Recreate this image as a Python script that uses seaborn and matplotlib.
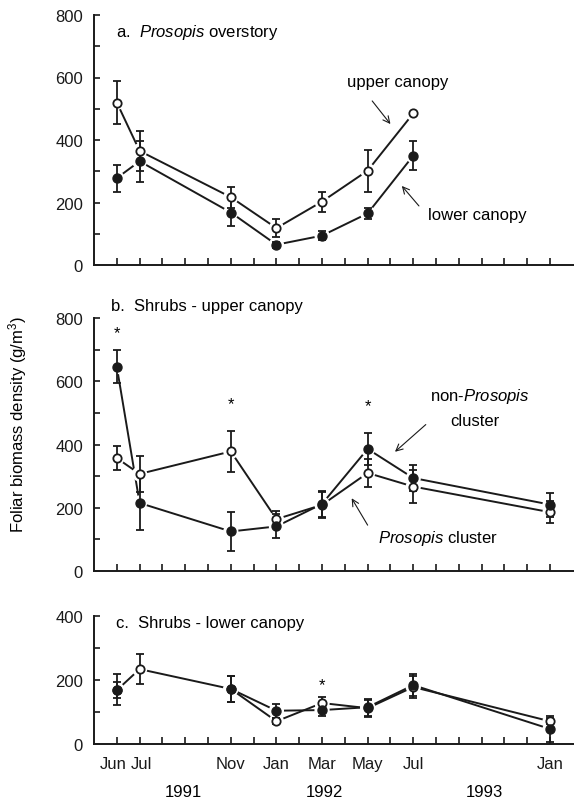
import numpy as np
import pandas as pd
import matplotlib
matplotlib.use("Agg")
import matplotlib.pyplot as plt
import matplotlib.transforms as mtransforms
import seaborn as sns
from matplotlib.ticker import FixedLocator, MultipleLocator

# ---------------- data ----------------
# month index: 0 = May 1991
months = [1, 2, 6, 8, 10, 12, 14, 20]
month_labels = ["Jun", "Jul", "Nov", "Jan", "Mar", "May", "Jul", "Jan"]
years = ["1991", "1992", "1993"]
year_pos = [3.9, 10.1, 17.1]

# a. Prosopis overstory (no Jan 1993 sample)
a_upper = [520, 365, 217, 118, 203, 302, 485, np.nan]
a_upper_err = [70, 65, 34, 29, 32, 67, np.nan, np.nan]
a_lower = [278, 332, 168, 65, 94, 165, 350, np.nan]
a_lower_err = [43, 65, 42, 10, 15, 18, 46, np.nan]

# b. Shrubs - upper canopy
b_nonpros = [646, 215, 125, 141, 212, 386, 294, 210]
b_nonpros_err = [52, 85, 63, 38, 42, 50, 40, 38]
b_pros = [357, 307, 378, 164, 209, 310, 267, 186]
b_pros_err = [37, 56, 64, 25, 40, 43, 52, 34]
b_stars = [(1, 755), (6, 528), (12, 523)]

# c. Shrubs - lower canopy
c_pros = [168, 234, 172, 71, 128, 112, 178, 71]
c_pros_err = [25, 48, 40, 10, 18, 27, 35, 10]
c_nonpros = [170, np.nan, 172, 104, 106, 115, 184, 47]
c_nonpros_err = [48, np.nan, 40, 22, 20, 27, 35, 40]
c_stars = [(10, 187)]

# ---------------- style ----------------
sns.set_theme(style="ticks")
plt.rcParams["font.family"] = ["Liberation Sans", "DejaVu Sans"]
plt.rcParams["mathtext.fontset"] = "custom"
plt.rcParams["mathtext.rm"] = "Liberation Sans"
plt.rcParams["mathtext.it"] = "Liberation Sans:italic"
for k in ("text.color", "axes.labelcolor", "xtick.color", "ytick.color",
          "axes.edgecolor"):
    plt.rcParams[k] = "black"
FS = 12

fig = plt.figure(figsize=(5.74, 8.03), dpi=100)
L, W = 94 / 574, 480 / 574
ax_a = fig.add_axes([L, (803 - 266) / 803, W, 250 / 803])
ax_b = fig.add_axes([L, (803 - 572) / 803, W, 253 / 803])
ax_c = fig.add_axes([L, (803 - 745) / 803, W, 128 / 803])


def make_df(vals):
    rows, seg = [], 0
    for m, v in zip(months, vals):
        if np.isnan(v):
            seg += 1
            continue
        rows.append({"month": m, "value": v, "seg": seg})
    return pd.DataFrame(rows)


def draw_series(ax, vals):
    df = make_df(vals)
    sns.lineplot(data=df, x="month", y="value", units="seg", estimator=None,
                 color="k", linewidth=1.4, ax=ax, zorder=2, legend=False)
    # white halo so that lines stop short of the symbols
    ax.scatter(df["month"], df["value"], s=120, color="white",
               edgecolors="none", zorder=2.5)


def draw_marks(ax, vals, errs, filled):
    df = make_df(vals)
    ax.errorbar(months, vals, yerr=errs, fmt="none", ecolor="k",
                elinewidth=1.3, capsize=3, capthick=1.3, zorder=3)
    if filled:
        sns.scatterplot(x=df["month"], y=df["value"], ax=ax, s=42,
                        color="k", edgecolor="k", linewidth=1.0, zorder=5,
                        legend=False)
    else:
        sns.scatterplot(x=df["month"], y=df["value"], ax=ax, s=36,
                        color="white", edgecolor="k", linewidth=1.3, zorder=4,
                        legend=False)


panels = [
    (ax_a, [(a_upper, a_upper_err, False), (a_lower, a_lower_err, True)], 800),
    (ax_b, [(b_pros, b_pros_err, False), (b_nonpros, b_nonpros_err, True)], 800),
    (ax_c, [(c_pros, c_pros_err, False), (c_nonpros, c_nonpros_err, True)], 400),
]

for ax, series, ymax in panels:
    for vals, errs, filled in series:
        draw_series(ax, vals)
    for vals, errs, filled in series:
        draw_marks(ax, vals, errs, filled)
    ax.set_xlim(0, 21.05)
    ax.set_ylim(0, ymax)
    ax.set_xlabel("")
    ax.set_ylabel("")
    sns.despine(ax=ax)
    for s in ("left", "bottom"):
        ax.spines[s].set_linewidth(1.4)
        ax.spines[s].set_color("k")
    ax.yaxis.set_major_locator(MultipleLocator(200))
    ax.yaxis.set_minor_locator(MultipleLocator(100))
    ax.xaxis.set_major_locator(FixedLocator(months))
    ax.xaxis.set_minor_locator(FixedLocator(list(range(1, 21))))
    ax.tick_params(axis="both", which="both", direction="in", color="k",
                   width=1.2, labelsize=FS, labelcolor="k")
    ax.tick_params(axis="y", which="major", length=4.5, pad=8)
    ax.tick_params(axis="y", which="minor", length=4)
    ax.tick_params(axis="x", which="both", length=5, pad=9)
    ax.set_facecolor("white")
    ax.grid(False)

ax_a.set_xticklabels([])
ax_b.set_xticklabels([])
ax_c.set_xticklabels(month_labels)
# spread the crowded "Jun Jul" pair a little, as in the original
_labels = ax_c.get_xticklabels()
for lab, dx in ((_labels[0], -4), (_labels[1], 2)):
    lab.set_transform(lab.get_transform() +
                      mtransforms.ScaledTranslation(dx / 100, 0,
                                                    fig.dpi_scale_trans))
for yp, yl in zip(year_pos, years):
    ax_c.text(yp, -0.37, yl, transform=ax_c.get_xaxis_transform(),
              ha="center", va="center", fontsize=FS)

# panel titles
ax_a.text(0.95, 746, "a.  $\\it{Prosopis}$ overstory", fontsize=FS, va="center")
ax_b.text(0.73, 838, "b.  Shrubs - upper canopy", fontsize=FS, va="center",
          clip_on=False)
ax_c.text(0.95, 381, "c.  Shrubs - lower canopy", fontsize=FS, va="center",
          clip_on=False)

# annotations panel a
arrow = dict(arrowstyle="->", color="k", lw=0.8, shrinkA=0, shrinkB=0)
ax_a.text(13.3, 586, "upper canopy", fontsize=FS, ha="center", va="center")
ax_a.annotate("", xy=(13.0, 451), xytext=(12.2, 525), arrowprops=arrow)
ax_a.text(16.8, 163, "lower canopy", fontsize=FS, ha="center", va="center")
ax_a.annotate("", xy=(13.5, 253), xytext=(14.25, 189), arrowprops=arrow)

# annotations panel b
ax_b.text(16.9, 554, "non-$\\it{Prosopis}$", fontsize=FS, ha="center", va="center")
ax_b.text(16.7, 475, "cluster", fontsize=FS, ha="center", va="center")
ax_b.annotate("", xy=(13.2, 377), xytext=(14.55, 463), arrowprops=arrow)
ax_b.text(15.1, 106, "$\\it{Prosopis}$ cluster", fontsize=FS, ha="center",
          va="center")
ax_b.annotate("", xy=(11.3, 230), xytext=(12.0, 145), arrowprops=arrow)

for x, y in b_stars:
    ax_b.text(x, y, "*", fontsize=FS, ha="center", va="center")
for x, y in c_stars:
    ax_c.text(x, y, "*", fontsize=FS, ha="center", va="center")

fig.text(0.031, 0.471, "Foliar biomass density (g/m$^3$)", rotation=90,
         ha="center", va="center", fontsize=FS)

fig.savefig("out.png", dpi=100, facecolor="white")
